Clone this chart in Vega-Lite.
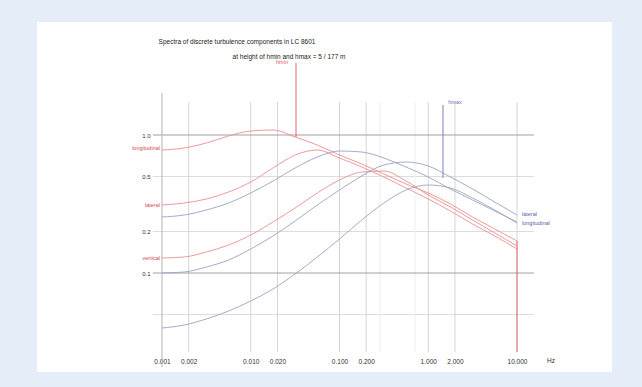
{
  "$schema": "https://vega.github.io/schema/vega-lite/v6.json",
  "width": 575,
  "height": 350,
  "autosize": {"type": "none"},
  "padding": {"left": 37, "top": 22, "right": 30, "bottom": 15},
  "background": "#e4edf8",
  "view": {"fill": "white", "stroke": null},
  "config": {"font": "Liberation Sans"},
  "datasets": {
    "curves": [
      {"c":"u5","g":"5 m","f":0.001,"S":0.7786},{"c":"u5","g":"5 m","f":0.00178,"S":0.805},{"c":"u5","g":"5 m","f":0.00316,"S":0.875},{"c":"u5","g":"5 m","f":0.00562,"S":0.9835},{"c":"u5","g":"5 m","f":0.01,"S":1.069},{"c":"u5","g":"5 m","f":0.0178,"S":1.087},{"c":"u5","g":"5 m","f":0.0316,"S":0.9672},{"c":"u5","g":"5 m","f":0.0562,"S":0.8464},{"c":"u5","g":"5 m","f":0.1,"S":0.7163},{"c":"u5","g":"5 m","f":0.178,"S":0.6163},{"c":"u5","g":"5 m","f":0.316,"S":0.5217},{"c":"u5","g":"5 m","f":0.562,"S":0.4415},{"c":"u5","g":"5 m","f":1,"S":0.3799},{"c":"u5","g":"5 m","f":1.78,"S":0.3162},{"c":"u5","g":"5 m","f":3.16,"S":0.2546},{"c":"u5","g":"5 m","f":5.62,"S":0.2084},{"c":"u5","g":"5 m","f":10,"S":0.1706},
      {"c":"v5","g":"5 m","f":0.001,"S":0.311},{"c":"v5","g":"5 m","f":0.00178,"S":0.3215},{"c":"v5","g":"5 m","f":0.00316,"S":0.3437},{"c":"v5","g":"5 m","f":0.00562,"S":0.3863},{"c":"v5","g":"5 m","f":0.01,"S":0.4565},{"c":"v5","g":"5 m","f":0.0178,"S":0.5765},{"c":"v5","g":"5 m","f":0.0316,"S":0.7163},{"c":"v5","g":"5 m","f":0.0562,"S":0.7786},{"c":"v5","g":"5 m","f":0.1,"S":0.6813},{"c":"v5","g":"5 m","f":0.178,"S":0.5862},{"c":"v5","g":"5 m","f":0.316,"S":0.4963},{"c":"v5","g":"5 m","f":0.562,"S":0.413},{"c":"v5","g":"5 m","f":1,"S":0.3437},{"c":"v5","g":"5 m","f":1.78,"S":0.2814},{"c":"v5","g":"5 m","f":3.16,"S":0.2265},{"c":"v5","g":"5 m","f":5.62,"S":0.1854},{"c":"v5","g":"5 m","f":10,"S":0.1493},
      {"c":"w5","g":"5 m","f":0.001,"S":0.1285},{"c":"w5","g":"5 m","f":0.00178,"S":0.1306},{"c":"w5","g":"5 m","f":0.00316,"S":0.142},{"c":"w5","g":"5 m","f":0.00562,"S":0.1596},{"c":"w5","g":"5 m","f":0.01,"S":0.1885},{"c":"w5","g":"5 m","f":0.0178,"S":0.2342},{"c":"w5","g":"5 m","f":0.0316,"S":0.2958},{"c":"w5","g":"5 m","f":0.0562,"S":0.3799},{"c":"w5","g":"5 m","f":0.1,"S":0.4721},{"c":"w5","g":"5 m","f":0.178,"S":0.5393},{"c":"w5","g":"5 m","f":0.316,"S":0.5484},{"c":"w5","g":"5 m","f":0.562,"S":0.4642},{"c":"w5","g":"5 m","f":1,"S":0.3674},{"c":"w5","g":"5 m","f":1.78,"S":0.3008},{"c":"w5","g":"5 m","f":3.16,"S":0.2421},{"c":"w5","g":"5 m","f":5.62,"S":0.195},{"c":"w5","g":"5 m","f":10,"S":0.1569},
      {"c":"u177","g":"177 m","f":0.001,"S":0.2546},{"c":"u177","g":"177 m","f":0.00178,"S":0.2632},{"c":"u177","g":"177 m","f":0.00316,"S":0.2861},{"c":"u177","g":"177 m","f":0.00562,"S":0.3215},{"c":"u177","g":"177 m","f":0.01,"S":0.3799},{"c":"u177","g":"177 m","f":0.0178,"S":0.4642},{"c":"u177","g":"177 m","f":0.0316,"S":0.5765},{"c":"u177","g":"177 m","f":0.0562,"S":0.6928},{"c":"u177","g":"177 m","f":0.1,"S":0.7657},{"c":"u177","g":"177 m","f":0.178,"S":0.753},{"c":"u177","g":"177 m","f":0.316,"S":0.6813},{"c":"u177","g":"177 m","f":0.562,"S":0.5862},{"c":"u177","g":"177 m","f":1,"S":0.4963},{"c":"u177","g":"177 m","f":1.78,"S":0.4062},{"c":"u177","g":"177 m","f":3.16,"S":0.338},{"c":"u177","g":"177 m","f":5.62,"S":0.2814},{"c":"u177","g":"177 m","f":10,"S":0.2342},
      {"c":"v177","g":"177 m","f":0.001,"S":0.1},{"c":"v177","g":"177 m","f":0.00178,"S":0.1017},{"c":"v177","g":"177 m","f":0.00316,"S":0.1105},{"c":"v177","g":"177 m","f":0.00562,"S":0.1242},{"c":"v177","g":"177 m","f":0.01,"S":0.1493},{"c":"v177","g":"177 m","f":0.0178,"S":0.1854},{"c":"v177","g":"177 m","f":0.0316,"S":0.2381},{"c":"v177","g":"177 m","f":0.0562,"S":0.311},{"c":"v177","g":"177 m","f":0.1,"S":0.3994},{"c":"v177","g":"177 m","f":0.178,"S":0.5046},{"c":"v177","g":"177 m","f":0.316,"S":0.6061},{"c":"v177","g":"177 m","f":0.562,"S":0.6372},{"c":"v177","g":"177 m","f":1,"S":0.5961},{"c":"v177","g":"177 m","f":1.78,"S":0.4963},{"c":"v177","g":"177 m","f":3.16,"S":0.4062},{"c":"v177","g":"177 m","f":5.62,"S":0.3269},{"c":"v177","g":"177 m","f":10,"S":0.2632},
      {"c":"w177","g":"177 m","f":0.001,"S":0.03994},{"c":"w177","g":"177 m","f":0.00178,"S":0.04198},{"c":"w177","g":"177 m","f":0.00316,"S":0.04642},{"c":"w177","g":"177 m","f":0.00562,"S":0.05304},{"c":"w177","g":"177 m","f":0.01,"S":0.06266},{"c":"w177","g":"177 m","f":0.0178,"S":0.07657},{"c":"w177","g":"177 m","f":0.0316,"S":0.09834},{"c":"w177","g":"177 m","f":0.0562,"S":0.1306},{"c":"w177","g":"177 m","f":0.1,"S":0.1764},{"c":"w177","g":"177 m","f":0.178,"S":0.2421},{"c":"w177","g":"177 m","f":0.316,"S":0.3215},{"c":"w177","g":"177 m","f":0.562,"S":0.3994},{"c":"w177","g":"177 m","f":1,"S":0.4342},{"c":"w177","g":"177 m","f":1.78,"S":0.413},{"c":"w177","g":"177 m","f":3.16,"S":0.3494},{"c":"w177","g":"177 m","f":5.62,"S":0.2861},{"c":"w177","g":"177 m","f":10,"S":0.2303}
    ]
  },
  "encoding": {
    "x": {
      "field": "f", "type": "quantitative",
      "scale": {"type": "log", "domain": [3.905e-5, 117.6], "nice": false},
      "axis": {"values": [0.001, 0.002, 0.01, 0.02, 0.1, 0.2, 1, 2, 10], "format": ".3f", "domain": false, "ticks": false, "grid": false, "labelFontSize": 6.5, "labelColor": "#333333", "labelPadding": 0, "offset": -11, "labelBaseline": "middle", "title": null, "labelFlush": false, "labelOverlap": false}
    },
    "y": {
      "field": "S", "type": "quantitative",
      "scale": {"type": "log", "domain": [0.01917, 6.591], "nice": false},
      "axis": {"values": [1, 0.5, 0.2, 0.1], "format": ".1f", "domain": false, "ticks": false, "grid": false, "labelFontSize": 6, "labelColor": "#333333", "labelPadding": 0, "offset": -113, "title": null, "labelOverlap": false}
    }
  },
  "layer": [
    {
      "data": {"values": [{"f": 0.00079, "f2": 15.5, "S": 0.5}, {"f": 0.00079, "f2": 15.5, "S": 0.2}, {"f": 0.00079, "f2": 15.5, "S": 0.05}]},
      "mark": {"type": "rule", "stroke": "#dcdcdc", "strokeWidth": 1},
      "encoding": {"x2": {"field": "f2"}}
    },
    {
      "data": {"values": [
        {"f": 0.002, "S": 1.734, "S2": 0.0268}, {"f": 0.01, "S": 1.734, "S2": 0.0268}, {"f": 0.02, "S": 1.734, "S2": 0.0268},
        {"f": 0.1, "S": 1.734, "S2": 0.0268}, {"f": 0.2, "S": 1.734, "S2": 0.0268}, {"f": 1, "S": 1.734, "S2": 0.0268},
        {"f": 2, "S": 1.734, "S2": 0.0268}, {"f": 10, "S": 1.734, "S2": 0.0268}
      ]},
      "mark": {"type": "rule", "stroke": "#d6d6d6", "strokeWidth": 1},
      "encoding": {"y2": {"field": "S2"}}
    },
    {
      "data": {"values": [{"f": 0.286, "S": 1.734, "S2": 0.0268}, {"f": 0.71, "S": 1.734, "S2": 0.0268}]},
      "mark": {"type": "rule", "stroke": "#eeeeee", "strokeWidth": 1},
      "encoding": {"y2": {"field": "S2"}}
    },
    {
      "data": {"values": [{"f": 0.00079, "f2": 15.5, "S": 1}, {"f": 0.00079, "f2": 15.5, "S": 0.1}]},
      "mark": {"type": "rule", "stroke": "#a0a0a0", "strokeWidth": 1},
      "encoding": {"x2": {"field": "f2"}}
    },
    {
      "data": {"values": [{"f": 0.001, "S": 2.015, "S2": 0.0208}]},
      "mark": {"type": "rule", "stroke": "#b4b4b4", "strokeWidth": 1},
      "encoding": {"y2": {"field": "S2"}}
    },
    {
      "data": {"values": [{"f": 10, "S": 0.1706, "S2": 0.0268}, {"f": 0.03236, "S": 3.325, "S2": 0.9672}]},
      "mark": {"type": "rule", "stroke": "#e06868", "strokeWidth": 1},
      "encoding": {"y2": {"field": "S2"}}
    },
    {
      "data": {"values": [{"f": 1.466, "S": 1.65, "S2": 0.488}]},
      "mark": {"type": "rule", "stroke": "#7a80b8", "strokeWidth": 1},
      "encoding": {"y2": {"field": "S2"}}
    },
    {
      "data": {"name": "curves"},
      "mark": {"type": "line", "interpolate": "monotone", "strokeWidth": 0.9},
      "encoding": {
        "detail": {"field": "c"},
        "color": {"field": "g", "type": "nominal", "scale": {"domain": ["5 m", "177 m"], "range": ["#ea8e8e", "#9ca1c4"]}, "legend": null}
      }
    },
    {
      "data": {"values": [
        {"f": 0.007, "S": 4.72, "t": "Spectra of discrete turbulence components in LC 8601"},
        {"f": 0.02698, "S": 3.675, "t": "at height of hmin and hmax = 5 / 177 m"}
      ]},
      "mark": {"type": "text", "align": "center", "baseline": "middle", "fontSize": 6.5, "color": "#222222"},
      "encoding": {"text": {"field": "t"}}
    },
    {
      "data": {"values": [
        {"f": 0.000949, "S": 0.805, "t": "longitudinal"},
        {"f": 0.000949, "S": 0.311, "t": "lateral"},
        {"f": 0.000949, "S": 0.1285, "t": "vertical"}
      ]},
      "mark": {"type": "text", "align": "right", "baseline": "middle", "fontSize": 5.5, "color": "#d84848"},
      "encoding": {"text": {"field": "t"}}
    },
    {
      "data": {"values": [{"f": 0.02249, "S": 3.381, "t": "hmin"}]},
      "mark": {"type": "text", "align": "center", "baseline": "middle", "fontSize": 5.5, "color": "#e05a5a"},
      "encoding": {"text": {"field": "t"}}
    },
    {
      "data": {"values": [
        {"f": 11.38, "S": 0.2677, "t": "lateral"},
        {"f": 11.38, "S": 0.2303, "t": "longitudinal"}
      ]},
      "mark": {"type": "text", "align": "left", "baseline": "middle", "fontSize": 5.5, "color": "#5262a8"},
      "encoding": {"text": {"field": "t"}}
    },
    {
      "data": {"values": [{"f": 2.002, "S": 1.734, "t": "hmax"}]},
      "mark": {"type": "text", "align": "center", "baseline": "middle", "fontSize": 5.5, "color": "#6a72b8"},
      "encoding": {"text": {"field": "t"}}
    },
    {
      "data": {"values": [{"f": 24.16, "S": 0.02303, "t": "Hz"}]},
      "mark": {"type": "text", "align": "center", "baseline": "middle", "fontSize": 6.5, "color": "#333333"},
      "encoding": {"text": {"field": "t"}}
    }
  ]
}
